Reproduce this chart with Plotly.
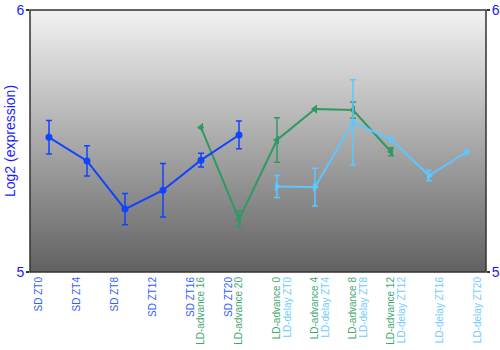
import plotly.graph_objects as go

# ---- data ----
sd_labels = ["SD ZT0", "SD ZT4", "SD ZT8", "SD ZT12", "SD ZT16", "SD ZT20"]
sd_slots = [0, 1, 2, 3, 4, 5]
sd_vals = [5.514, 5.424, 5.240, 5.312, 5.427, 5.523]
sd_err = [0.064, 0.058, 0.060, 0.102, 0.026, 0.053]

adv_labels = ["LD-advance 16", "LD-advance 20", "LD-advance 0", "LD-advance 4",
              "LD-advance 8", "LD-advance 12"]
adv_slots = [4, 5, 6, 7, 8, 9]
adv_vals = [5.552, 5.201, 5.504, 5.622, 5.618, 5.459]
adv_err = [None, 0.031, 0.085, None, 0.031, 0.015]

delay_labels = ["LD-delay ZT0", "LD-delay ZT4", "LD-delay ZT8", "LD-delay ZT12",
                "LD-delay ZT16", "LD-delay ZT20"]
delay_slots = [6, 7, 8, 9, 10, 11]
delay_vals = [5.326, 5.324, 5.571, 5.506, 5.368, 5.459]
delay_err = [0.042, 0.072, 0.163, None, 0.020, None]

y_ticks = [5, 6]

# ---- styles ----
SD_C, ADV_C, DEL_C = "#1144ff", "#2e9a62", "#5cc8ff"
SD_T, ADV_T, DEL_T = "#3060ff", "#3fa872", "#70ccff"
AX_BLUE = "#1a1aff"
FONT = "Liberation Sans, Arial, sans-serif"

xr = [-0.5, 11.5]
yr = [5, 6]

fig = go.Figure()

# gradient background (plot-area fill), light at top to dark at bottom
n = 262
top, bot = 242, 98
y_edges = [yr[0] + (yr[1] - yr[0]) * i / n for i in range(n + 1)]
z = [[i / (n - 1)] for i in range(n)]
fig.add_trace(go.Heatmap(
    x=xr, y=y_edges, z=z, zsmooth=False, showscale=False, hoverinfo="skip",
    colorscale=[[0, f"rgb({bot},{bot},{bot})"], [1, f"rgb({top},{top},{top})"]]))

def add_series(xs, ys, errs, color, symbol, size):
    fig.add_trace(go.Scatter(
        x=xs, y=ys, mode="lines+markers",
        line=dict(color=color, width=2),
        marker=dict(color=color, symbol=symbol, size=size),
        error_y=dict(type="data", array=errs, visible=True, color=color,
                     thickness=1.5, width=3),
        showlegend=False, hoverinfo="skip"))

add_series(adv_slots, adv_vals, adv_err, ADV_C, "triangle-left", 8)
add_series(delay_slots, delay_vals, delay_err, DEL_C, "triangle-right", 8)
add_series(sd_slots, sd_vals, sd_err, SD_C, "circle", 7)

# invisible carriers so that the label axes are drawn
for ax, slots in (("x2", sd_slots), ("x3", adv_slots), ("x4", delay_slots)):
    fig.add_trace(go.Scatter(x=slots, y=[None] * len(slots), xaxis=ax, yaxis="y",
                             mode="markers", showlegend=False, hoverinfo="skip"))
fig.add_trace(go.Scatter(x=[None], y=[None], xaxis="x", yaxis="y2",
                         mode="markers", showlegend=False, hoverinfo="skip"))

off = 0.27
lab_font = dict(family=FONT, size=10)

def lab_axis(rng, slots, labels, color):
    return dict(overlaying="x", anchor="y", side="bottom", range=rng,
                tickmode="array", tickvals=slots, ticktext=labels,
                tickangle=-90, tickfont=dict(lab_font, color=color),
                ticks="", showgrid=False, zeroline=False, showline=False,
                automargin=False, ticklabelstandoff=2)

def y_axis(**kw):
    d = dict(range=yr, tickmode="array", tickvals=y_ticks, ticks="outside",
             ticklen=3, tickwidth=1.5, tickcolor="#333", showgrid=False,
             zeroline=False, showline=False, automargin=False,
             ticklabelstandoff=-1,
             tickfont=dict(family=FONT, size=14, color=AX_BLUE))
    d.update(kw)
    return d

fig.update_layout(
    width=500, height=350,
    margin=dict(l=30, r=14, t=10, b=78, autoexpand=False),
    paper_bgcolor="white", plot_bgcolor="#999999",
    font=dict(family=FONT),
    xaxis=dict(range=xr, showticklabels=False, ticks="", showgrid=False,
               zeroline=False, showline=False, automargin=False),
    xaxis2=lab_axis([xr[0] + off, xr[1] + off], sd_slots, sd_labels, SD_T),
    xaxis3=lab_axis(xr, adv_slots, adv_labels, ADV_T),
    xaxis4=lab_axis([xr[0] - off, xr[1] - off], delay_slots, delay_labels, DEL_T),
    yaxis=y_axis(),
    yaxis2=y_axis(overlaying="y", side="right", anchor="x"),
    shapes=[dict(type="rect", xref="paper", yref="paper", x0=0, x1=1, y0=0, y1=1,
                 line=dict(color="#333333", width=1.5), layer="above")],
    annotations=[dict(text="Log2 (expression)", xref="paper", yref="paper",
                      x=0, y=0.5, xanchor="center", yanchor="middle",
                      xshift=-20, textangle=-90, showarrow=False,
                      font=dict(family=FONT, size=14, color=AX_BLUE))],
)

fig.write_html("out.html")
